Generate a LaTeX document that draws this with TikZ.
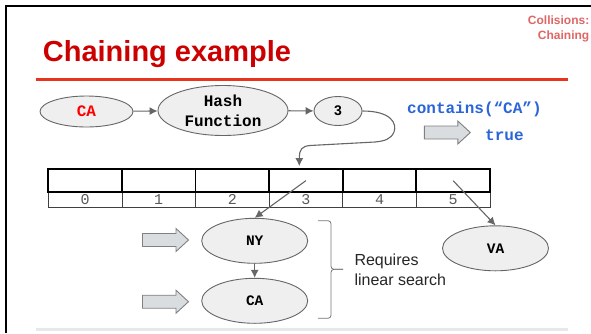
\documentclass[tikz,border=0pt]{standalone}
\usepackage{fontspec}
\setmainfont{Liberation Sans}
\setmonofont{Liberation Mono}
\usetikzlibrary{shapes.geometric,arrows.meta}
\definecolor{titlered}{HTML}{CC0000}
\definecolor{rulered}{HTML}{E8341C}
\definecolor{pinkred}{HTML}{E06666}
\definecolor{codeblue}{HTML}{2B65D9}
\definecolor{ellfill}{HTML}{EFEFEF}
\definecolor{ellline}{HTML}{666666}
\definecolor{arrgray}{HTML}{666666}
\definecolor{blockfill}{HTML}{D9DDDF}
\definecolor{blockline}{HTML}{808080}
\definecolor{footgray}{HTML}{E6E8E9}
\definecolor{bracegray}{HTML}{777777}
\begin{document}
\begin{tikzpicture}[x=1pt,y=-1pt,
  ell/.style={ellipse, draw=ellline, fill=ellfill, line width=0.9pt, inner sep=0pt},
  conn/.style={draw=arrgray, line width=1.1pt, -{Latex[length=8pt,width=8pt]}},
  cellbox/.style={draw=black, line width=1.8pt, minimum width=73.6pt, minimum height=23.3pt, inner sep=0pt},
  labbox/.style={draw=black!75, line width=0.8pt, minimum width=73.6pt, minimum height=15pt, inner sep=0pt, font=\ttfamily\fontsize{15}{15}\selectfont, text=black!65},
  blockarrow/.pic={\draw[draw=blockline, fill=blockfill, line width=0.9pt] (-23,-6.5) -- (10.5,-6.5) -- (10.5,-11.5) -- (23,0) -- (10.5,11.5) -- (10.5,6.5) -- (-23,6.5) -- cycle;},
  plain/.style={inner sep=0pt}
]
\useasboundingbox (0,0) rectangle (591,333);
\fill[white] (0,0) rectangle (591,333);
% frame
\draw[line width=2pt] (6.3,333) -- (6.3,5.8) -- (591,5.8);
% header
\node[plain, anchor=base west, text=titlered, font=\bfseries\fontsize{29}{35}\selectfont] (title) at (42.7,61.7) {Chaining example};
\node[plain, anchor=base east, text=pinkred, font=\bfseries\fontsize{12}{15}\selectfont] (topic1) at (589.5,24) {Collisions:};
\node[plain, anchor=base east, text=pinkred, font=\bfseries\fontsize{12}{15}\selectfont] (topic2) at (589.5,39.3) {Chaining};
\draw[rulered, line width=3pt] (36,79) -- (567.7,79);
\draw[footgray, line width=3pt] (36,329) -- (567.7,329);
% top chain
\node[ell, minimum width=93pt, minimum height=31pt, font=\ttfamily\bfseries\fontsize{16}{16}\selectfont, text=red] (key) at (86.5,111.5) {CA};
\node[ell, minimum width=130pt, minimum height=50pt, align=center, font=\ttfamily\bfseries\fontsize{16}{20}\selectfont] (hash) at (223,110.5) {Hash\\Function};
\node[ell, minimum width=48pt, minimum height=29pt, font=\bfseries\fontsize{14}{14}\selectfont] (idx) at (338,111) {3};
\draw[conn] (key) -- (hash);
\draw[conn] (hash) -- (idx);
% contains
\node[plain, anchor=base west, text=codeblue, font=\ttfamily\bfseries\fontsize{16}{16}\selectfont] (query) at (407,113) {contains(“CA”)};
\pic at (447.3,132.5) {blockarrow};
\node[plain, anchor=base west, text=codeblue, font=\ttfamily\bfseries\fontsize{16}{16}\selectfont] (result) at (485,140) {true};
% table
\foreach \i in {0,...,5}{
  \node[labbox] (l\i) at ({48.3+73.6*(\i+0.5)},199.8) {\raisebox{-2pt}{\i}};
}
\foreach \i in {0,...,5}{
  \node[cellbox] (c\i) at ({48.3+73.6*(\i+0.5)},180.65) {};
}
% curve from 3 to cell 3
\draw[conn] (idx.east) .. controls (392,111) and (397,124) .. (394,132)
  .. controls (391,139) and (385,141) .. (375,142) -- (310,145.5)
  .. controls (302,146) and (299.3,150) .. (299.3,157) -- ([xshift=-6.6pt,yshift=2pt]c3.north);
% chain nodes
\node[ell, minimum width=106pt, minimum height=45pt, font=\ttfamily\bfseries\fontsize{14.5}{14.5}\selectfont] (ny) at (254.7,240.8) {\raisebox{-3pt}{NY}};
\node[ell, minimum width=106pt, minimum height=45pt, font=\ttfamily\bfseries\fontsize{14.5}{14.5}\selectfont] (ca) at (254.7,300.8) {\raisebox{-3pt}{CA}};
\node[ell, minimum width=106pt, minimum height=45pt, font=\ttfamily\bfseries\fontsize{14.5}{14.5}\selectfont] (va) at (495.5,248.3) {\raisebox{-3pt}{VA}};
\draw[conn] (c3.center) -- (ny.north);
\draw[conn] (c5.center) -- (va.north);
\draw[conn] (ny) -- (ca);
% block arrows
\pic at (165.5,240) {blockarrow};
\pic at (165.5,301.7) {blockarrow};
% brace
\draw[bracegray, line width=0.8pt, rounded corners=3pt] (318,220.7) -| (331,269.3) -- (343,269.3);
\draw[bracegray, line width=0.8pt, rounded corners=3pt] (318,318.3) -| (331,269.3) -- (343,269.3);
\node[plain, anchor=base west, text=black!85, font=\fontsize{16}{20}\selectfont] (req1) at (354.3,265) {Requires};
\node[plain, anchor=base west, text=black!85, font=\fontsize{16}{20}\selectfont] (req2) at (354.3,285) {linear search};
\end{tikzpicture}
\end{document}
